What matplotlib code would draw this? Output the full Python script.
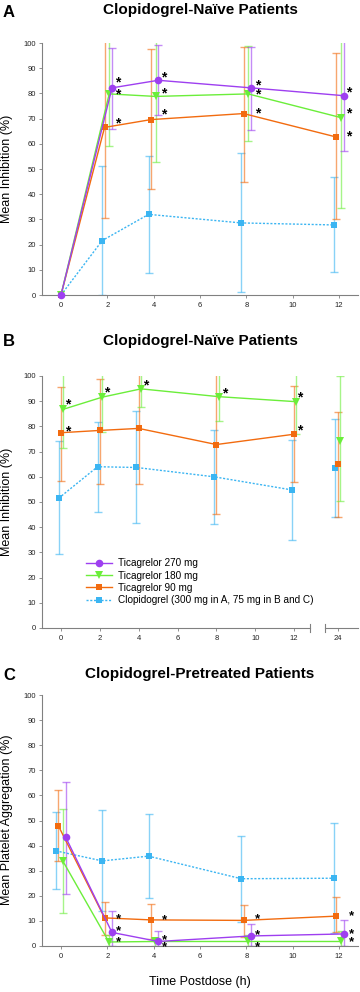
import matplotlib
matplotlib.use("Agg")
import matplotlib.pyplot as plt
import numpy as np

plt.rcParams['font.family'] = ['Liberation Sans', 'DejaVu Sans']

# ---------------- data ----------------
hours = [0, 2, 4, 8, 12]
hours_b = [0, 2, 4, 8, 12, 24]

labels = ["Ticagrelor 270 mg", "Ticagrelor 180 mg", "Ticagrelor 90 mg",
          "Clopidogrel (300 mg in A, 75 mg in B and C)"]

# Panel A: mean inhibition (%), clopidogrel-naive
a_t270 = [0, 82.2, 85.2, 82.2, 79.1]
a_t270_lo = [0, 65.7, 71.3, 65.5, 57.3]
a_t270_hi = [0, 98.2, 99.1, 98.4, 104]
a_t180 = [0, 79.8, 78.8, 79.8, 70.4]
a_t180_lo = [0, 59.1, 52.7, 61.0, 34.4]
a_t180_hi = [0, 104, 104, 98.7, 104]
a_t90 = [0, 66.5, 69.6, 72.0, 62.7]
a_t90_lo = [0, 30.4, 42.1, 45.0, 30.0]
a_t90_hi = [0, 104, 97.5, 98.5, 96.2]
a_clop = [0, 21.6, 32.0, 28.6, 27.8]
a_clop_lo = [0, 0, 8.6, 1.2, 9.0]
a_clop_hi = [0, 51.2, 55.2, 56.5, 46.8]
a_star_x = [2.45, 2.45, 2.45, 4.42, 4.42, 4.42, 8.47, 8.47, 8.47, 12.4, 12.4, 12.4]
a_star_y = [85.7, 81.0, 69.7, 87.7, 81.6, 73.0, 84.7, 81.1, 73.4, 82.0, 73.4, 64.4]

# Panel B: mean inhibition (%), clopidogrel-naive (75 mg)
b_t180 = [86.8, 91.6, 94.9, 91.8, 89.8, 74.4]
b_t180_lo = [71.3, 77.8, 87.7, 82.0, 77.0, 50.5]
b_t180_hi = [104, 104, 104, 104, 104, 99.9]
b_t90 = [77.5, 78.4, 79.2, 72.8, 76.9, 65.1]
b_t90_lo = [58.2, 57.0, 57.0, 45.2, 57.8, 44.2]
b_t90_hi = [95.6, 98.9, 104, 104, 96.2, 85.8]
b_clop = [51.5, 64.0, 63.7, 60.0, 54.8, 63.5]
b_clop_lo = [29.4, 45.9, 41.5, 41.1, 34.9, 44.2]
b_clop_hi = [74.4, 81.9, 86.0, 78.7, 74.8, 82.8]
b_star_x = [0.35, 0.35, 2.37, 4.36, 8.41, 12.3, 12.3]
b_star_y = [90.2, 79.6, 95.0, 97.7, 94.7, 92.9, 79.9]

# Panel C: mean platelet aggregation (%), clopidogrel-pretreated
c_t270 = [43.4, 5.4, 1.8, 4.0, 4.8]
c_t270_lo = [20.6, 0, 0, 0, 0]
c_t270_hi = [65.3, 14.1, 6.1, 8.7, 10.3]
c_t180 = [34.0, 1.6, 1.8, 1.8, 1.8]
c_t180_lo = [13.2, 0, 0, 0, 0]
c_t180_hi = [54.7, 4.5, 3.0, 4.5, 6.0]
c_t90 = [48.0, 11.2, 10.4, 10.2, 11.9]
c_t90_lo = [34.0, 4.4, 2.8, 3.6, 5.5]
c_t90_hi = [62.2, 17.6, 16.6, 16.5, 19.4]
c_clop = [37.9, 33.9, 35.8, 26.8, 27.0]
c_clop_lo = [22.6, 14.0, 19.2, 9.5, 5.0]
c_clop_hi = [53.3, 54.0, 52.7, 44.0, 49.0]
c_star_x = [2.46] * 3 + [4.48] * 3 + [8.47] * 3 + [12.55] * 3
c_star_y = [12.4, 7.6, 3.3, 11.8, 4.1, 1.1, 12.4, 6.1, 1.1, 13.7, 6.4, 3.3]

# ---------------- style ----------------
C270, C180, C90, CCLOP = '#9E3FF0', '#6BEE3A', '#F26B0F', '#3BB5F2'
SPINE = '#808080'
W, H = 360, 992

fig = plt.figure(figsize=(W / 100, H / 100), dpi=100)


def fax(left, top, right, bottom):
    return fig.add_axes([left / W, 1 - bottom / H, (right - left) / W, (bottom - top) / H])


def style(ax, left=True):
    ax.set_ylim(0, 100)
    ax.patch.set_visible(False)
    for s in ['top', 'right']:
        ax.spines[s].set_visible(False)
    for s in ['left', 'bottom']:
        ax.spines[s].set_color(SPINE)
        ax.spines[s].set_linewidth(0.8)
    ax.tick_params(direction='out', length=2.3, width=0.6, color=SPINE,
                   labelsize=5.5, labelcolor='#222222')
    ax.tick_params(axis='x', pad=3.0)
    ax.tick_params(axis='y', pad=2.0)
    if left:
        ax.set_yticks(range(0, 101, 10))
    else:
        ax.spines['left'].set_visible(False)
        ax.set_yticks([])


def series(ax, x, m, lo, hi, color, marker, ms, ls='-'):
    x = np.asarray(x, float)
    m = np.asarray(m, float)
    lo = np.asarray(lo, float)
    hi = np.asarray(hi, float)
    sel = hi > lo
    ax.errorbar(x[sel], m[sel], yerr=[m[sel] - lo[sel], hi[sel] - m[sel]], fmt='none',
                ecolor=color, alpha=0.6, elinewidth=1.0, capsize=3, capthick=1.0, zorder=2)
    line, = ax.plot(x, m, ls=ls, color=color, lw=1.0, marker=marker, ms=ms,
                    mec=color, mfc=color, mew=0, clip_on=False, zorder=3)
    return line


def dodge(hs, d, zero=True):
    return [h + (d if (h > 0 or zero) else 0) for h in hs]


def stars(ax, xs, ys, fs=10):
    for x, y in zip(xs, ys):
        ax.annotate('*', xy=(x, y), xytext=(0, -0.55 * fs), textcoords='offset points',
                    ha='center', va='baseline', fontsize=fs, fontweight='bold',
                    color='black', annotation_clip=False)


DOT = (0, (1.5, 1.2))

# ---------------- Panel A ----------------
axA = fax(42, 43, 358, 295)
style(axA)
axA.set_xlim(-0.82, 12.82)
axA.set_xticks(range(0, 13, 2))
hA = []
hA.append(series(axA, dodge(hours, -0.22, False), a_clop, a_clop_lo, a_clop_hi, CCLOP, 's', 5.0, DOT))
hA.append(series(axA, dodge(hours, -0.12, False), a_t90, a_t90_lo, a_t90_hi, C90, 's', 5.0))
hA.append(series(axA, dodge(hours, 0.08, False), a_t180, a_t180_lo, a_t180_hi, C180, 'v', 5.5))
hA.append(series(axA, dodge(hours, 0.2, False), a_t270, a_t270_lo, a_t270_hi, C270, 'o', 5.5))
stars(axA, a_star_x, a_star_y)

# ---------------- Panel B (broken x axis) ----------------
axB1 = fax(42, 376, 310, 628)
style(axB1)
axB1.set_xlim(-0.98, 12.82)
axB1.set_xticks(range(0, 13, 2))
axB2 = fax(325, 376, 358, 628)
style(axB2, left=False)
axB2.set_xlim(23.35, 25.04)
axB2.set_xticks([24])

for ax, xs, sl in ((axB1, hours_b[:5], slice(0, 5)), (axB2, hours_b[5:], slice(5, 6))):
    series(ax, dodge(xs, -0.12), b_clop[sl], b_clop_lo[sl], b_clop_hi[sl], CCLOP, 's', 5.0, DOT)
    series(ax, dodge(xs, 0.0), b_t90[sl], b_t90_lo[sl], b_t90_hi[sl], C90, 's', 5.0)
    series(ax, dodge(xs, 0.12), b_t180[sl], b_t180_lo[sl], b_t180_hi[sl], C180, 'v', 5.5)
stars(axB1, b_star_x, b_star_y)
axB1.plot([1, 1], [-0.014, 0.014], transform=axB1.transAxes, color=SPINE, lw=0.8, clip_on=False)
axB2.plot([0, 0], [-0.014, 0.014], transform=axB2.transAxes, color=SPINE, lw=0.8, clip_on=False)

leg_handles = [hA[3], hA[2], hA[1], hA[0]]
axB1.legend(leg_handles, labels, loc='upper left', bbox_to_anchor=(86 / W, 1 - 558.5 / H),
            bbox_transform=fig.transFigure, frameon=False, fontsize=7.2,
            handlelength=2.6, handletextpad=0.6, labelspacing=0.22,
            borderpad=0, borderaxespad=0)

# ---------------- Panel C ----------------
axC = fax(42, 695, 358, 946)
style(axC)
axC.set_xlim(-0.82, 12.82)
axC.set_xticks(range(0, 13, 2))
series(axC, dodge(hours, -0.22), c_clop, c_clop_lo, c_clop_hi, CCLOP, 's', 5.0, DOT)
series(axC, dodge(hours, -0.12), c_t90, c_t90_lo, c_t90_hi, C90, 's', 5.0)
series(axC, dodge(hours, 0.07), c_t180, c_t180_lo, c_t180_hi, C180, 'v', 5.5)
series(axC, dodge(hours, 0.2), c_t270, c_t270_lo, c_t270_hi, C270, 'o', 5.5)
stars(axC, c_star_x, c_star_y, fs=9.5)

# ---------------- text ----------------
def ftext(x, y, s, **kw):
    fig.text(x / W, 1 - y / H, s, **kw)

ftext(200, 9.7, "Clopidogrel-Naïve Patients", ha='center', va='center', fontsize=11, fontweight='bold')
ftext(200, 341, "Clopidogrel-Naïve Patients", ha='center', va='center', fontsize=11, fontweight='bold')
ftext(200, 674, "Clopidogrel-Pretreated Patients", ha='center', va='center', fontsize=11, fontweight='bold')
ftext(3, 12.8, "A", ha='left', va='center', fontsize=12, fontweight='bold')
ftext(3, 341.5, "B", ha='left', va='center', fontsize=12, fontweight='bold')
ftext(3, 675, "C", ha='left', va='center', fontsize=12, fontweight='bold')
ftext(7.5, 169, "Mean Inhibition (%)", ha='center', va='center', rotation=90, fontsize=9)
ftext(7.5, 502, "Mean Inhibition (%)", ha='center', va='center', rotation=90, fontsize=9)
ftext(7.5, 820, "Mean Platelet Aggregation (%)", ha='center', va='center', rotation=90, fontsize=9)
ftext(200, 982, "Time Postdose (h)", ha='center', va='center', fontsize=9)

fig.savefig("out.png", dpi=100)
